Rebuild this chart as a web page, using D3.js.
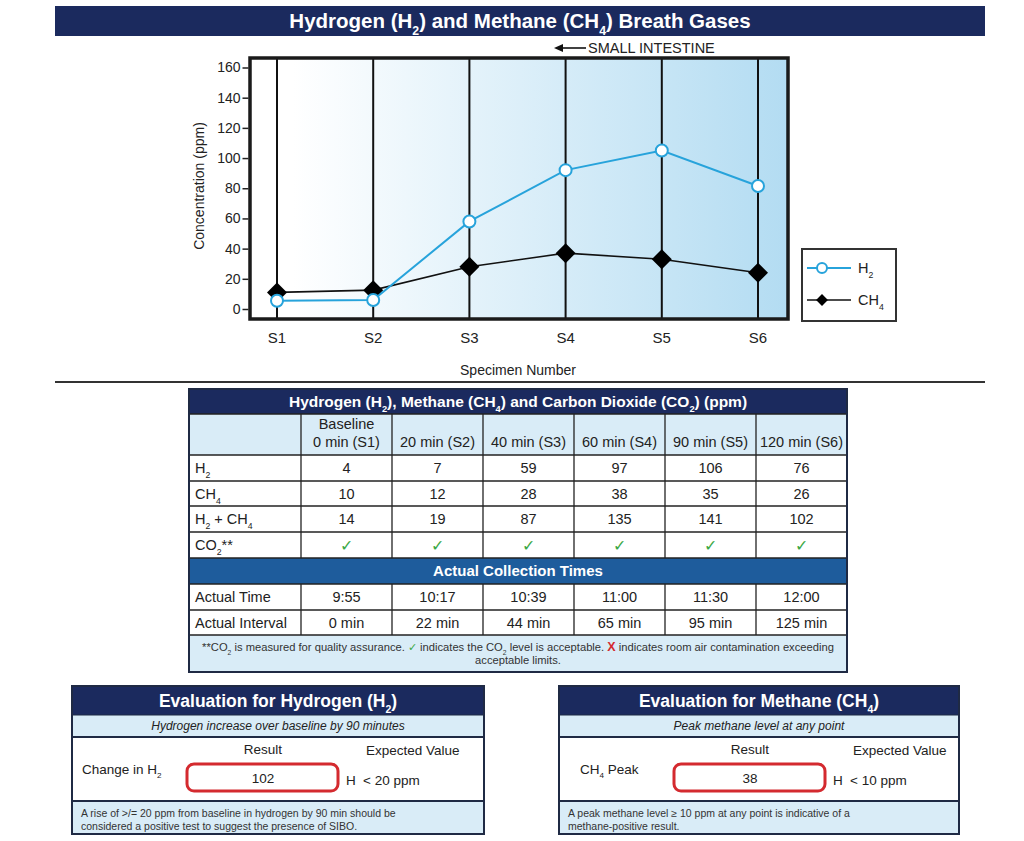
<!DOCTYPE html>
<html lang="en">
<head>
<meta charset="UTF-8">
<title>Hydrogen and Methane Breath Gases</title>
<script src="https://d3js.org/d3.v7.min.js"></script>
<style>
    body { margin: 0; background: #fff; font-family: "Liberation Sans", Arial, sans-serif; }
    svg text { font-family: "Liberation Sans", Arial, sans-serif; fill: #222; }
</style>
</head>
<body>
<svg id="page" width="1024" height="841"></svg>
<script>
    // ---- data ----
    const specimens = ["S1", "S2", "S3", "S4", "S5", "S6"];
    // values as drawn on the chart
    const h2Plot = [5.5, 6, 58, 92, 105, 81.5];
    const ch4Plot = [11, 12.5, 28, 37, 33, 24];
    const yTicks = [0, 20, 40, 60, 80, 100, 120, 140, 160];

    // table values
    const colHeads = [["Baseline", "0 min (S1)"], ["20 min (S2)"], ["40 min (S3)"], ["60 min (S4)"], ["90 min (S5)"], ["120 min (S6)"]];
    const rowLabels = ["H_{2}", "CH_{4}", "H_{2} + CH_{4}", "CO_{2}**"];
    const h2Table = [4, 7, 59, 97, 106, 76];
    const ch4Table = [10, 12, 28, 38, 35, 26];
    const sumTable = [14, 19, 87, 135, 141, 102];
    const co2Ok = [true, true, true, true, true, true];
    const timeLabels = ["Actual Time", "Actual Interval"];
    const actualTimes = ["9:55", "10:17", "10:39", "11:00", "11:30", "12:00"];
    const actualIntervals = ["0 min", "22 min", "44 min", "65 min", "95 min", "125 min"];

    const evalTitles = ["Evaluation for Hydrogen (H_{2})", "Evaluation for Methane (CH_{4})"];
    const evalSubs = ["Hydrogen increase over baseline by 90 minutes", "Peak methane level at any point"];
    const evalLabels = ["Change in H_{2}", "CH_{4} Peak"];
    const evalResults = [102, 38];
    const evalExpected = ["< 20 ppm", "< 10 ppm"];
    const evalNotes = [
        ["A rise of >/= 20 ppm from baseline in hydrogen by 90 min should be", "considered a positive test to suggest the presence of SIBO."],
        ["A peak methane level \u2265 10 ppm at any point is indicative of a", "methane-positive result."]
    ];

    const navy = "#1b2a5e", lightBlue = "#d9ecf7", h2Blue = "#27a3db";

    const svg = d3.select("#page");

    // text with _{sub} markup
    function rich(sel, str, fs) {
        const parts = str.split(/(_\{[^}]*\})/);
        let shifted = false;
        parts.forEach(p => {
            if (!p) return;
            if (p.startsWith("_{")) {
                sel.append("tspan").attr("dy", fs * 0.32).attr("font-size", fs * 0.6).text(p.slice(2, -1));
                shifted = true;
            } else {
                const t = sel.append("tspan").text(p);
                if (shifted) { t.attr("dy", -fs * 0.32); shifted = false; }
            }
        });
        return sel;
    }
    function label(g, x, y, str, fs, opts = {}) {
        const t = g.append("text")
            .attr("x", x).attr("y", y)
            .attr("font-size", fs)
            .attr("text-anchor", opts.anchor || "start")
            .attr("font-weight", opts.weight || "normal")
            .attr("font-style", opts.style || "normal")
            .style("fill", opts.fill || "#222");
        return rich(t, str, fs);
    }

    // ---- title bar ----
    svg.append("rect").attr("x", 55).attr("y", 6).attr("width", 930).attr("height", 30).attr("fill", navy);
    label(svg, 520, 28, "Hydrogen (H_{2}) and Methane (CH_{4}) Breath Gases", 20.5, { anchor: "middle", weight: "bold", fill: "#fff" });

    // ---- chart ----
    const frame = { left: 250, right: 788, top: 58, bottom: 319 };
    const x = d3.scalePoint().domain(specimens).range([277, 758]);
    const y = d3.scaleLinear().domain([0, 160]).range([309, 67.5]);

    const defs = svg.append("defs");
    const grad = defs.append("linearGradient").attr("id", "bg")
        .attr("gradientUnits", "userSpaceOnUse")
        .attr("x1", frame.left).attr("x2", frame.right).attr("y1", 0).attr("y2", 0);
    grad.append("stop").attr("offset", 0.08).attr("stop-color", "#ffffff");
    grad.append("stop").attr("offset", 1).attr("stop-color", "#b3dcf2");

    svg.append("rect")
        .attr("x", frame.left).attr("y", frame.top)
        .attr("width", frame.right - frame.left).attr("height", frame.bottom - frame.top)
        .attr("fill", "url(#bg)");

    svg.append("g").selectAll("line").data(specimens).enter().append("line")
        .attr("x1", d => x(d)).attr("x2", d => x(d))
        .attr("y1", frame.top).attr("y2", frame.bottom)
        .attr("stroke", "#111").attr("stroke-width", 2);

    svg.append("rect")
        .attr("x", frame.left).attr("y", frame.top)
        .attr("width", frame.right - frame.left).attr("height", frame.bottom - frame.top)
        .attr("fill", "none").attr("stroke", "#1a1a1a").attr("stroke-width", 3.5);

    const yAxis = svg.append("g")
        .attr("transform", `translate(${frame.left - 1.5},0)`)
        .call(d3.axisLeft(y).tickValues(yTicks).tickSize(6).tickPadding(2));
    yAxis.select(".domain").remove();
    yAxis.selectAll(".tick line").attr("stroke", "#222").attr("stroke-width", 1.5);
    yAxis.selectAll(".tick text").attr("font-size", 14).style("fill", "#222")
        .attr("font-family", "Liberation Sans, Arial, sans-serif");

    svg.append("g").selectAll("text").data(specimens).enter().append("text")
        .attr("x", d => x(d)).attr("y", 343)
        .attr("text-anchor", "middle").attr("font-size", 15)
        .text(d => d);

    svg.append("text")
        .attr("transform", "translate(204,186) rotate(-90)")
        .attr("text-anchor", "middle").attr("font-size", 14)
        .text("Concentration (ppm)");
    svg.append("text")
        .attr("x", 518).attr("y", 375)
        .attr("text-anchor", "middle").attr("font-size", 14)
        .text("Specimen Number");

    // small intestine note
    svg.append("line").attr("x1", 558).attr("x2", 586).attr("y1", 48).attr("y2", 48)
        .attr("stroke", "#111").attr("stroke-width", 1.6);
    svg.append("path").attr("d", "M554,48 L563,44 L563,52 Z").attr("fill", "#111");
    svg.append("text").attr("x", 588).attr("y", 53).attr("font-size", 14.5).text("SMALL INTESTINE");

    // lines
    const lineGen = d3.line().x((d, i) => x(specimens[i])).y(d => y(d));
    svg.append("path").datum(ch4Plot).attr("d", lineGen)
        .attr("fill", "none").attr("stroke", "#111").attr("stroke-width", 1.6);
    svg.append("g").selectAll("path").data(ch4Plot).enter().append("path")
        .attr("d", d3.symbol(d3.symbolSquare, 200))
        .attr("transform", (d, i) => `translate(${x(specimens[i])},${y(d)}) rotate(45)`)
        .attr("fill", "#000");

    svg.append("path").datum(h2Plot).attr("d", lineGen)
        .attr("fill", "none").attr("stroke", h2Blue).attr("stroke-width", 2);
    svg.append("g").selectAll("circle").data(h2Plot).enter().append("circle")
        .attr("cx", (d, i) => x(specimens[i])).attr("cy", d => y(d))
        .attr("r", 6).attr("fill", "#fff").attr("stroke", h2Blue).attr("stroke-width", 2);

    // legend
    const lg = svg.append("g");
    lg.append("rect").attr("x", 802).attr("y", 249).attr("width", 94).attr("height", 72)
        .attr("fill", "#fff").attr("stroke", "#333").attr("stroke-width", 2);
    lg.append("line").attr("x1", 807).attr("x2", 851).attr("y1", 268).attr("y2", 268)
        .attr("stroke", h2Blue).attr("stroke-width", 2);
    lg.append("circle").attr("cx", 822).attr("cy", 268).attr("r", 5)
        .attr("fill", "#fff").attr("stroke", h2Blue).attr("stroke-width", 2);
    label(lg, 858, 273, "H_{2}", 14.5);
    lg.append("line").attr("x1", 807).attr("x2", 851).attr("y1", 300).attr("y2", 300)
        .attr("stroke", "#111").attr("stroke-width", 1.6);
    lg.append("path").attr("d", d3.symbol(d3.symbolSquare, 70))
        .attr("transform", "translate(822,300) rotate(45)").attr("fill", "#000");
    label(lg, 858, 305, "CH_{4}", 14.5);

    // separator
    svg.append("line").attr("x1", 55).attr("x2", 985).attr("y1", 382).attr("y2", 382)
        .attr("stroke", "#333").attr("stroke-width", 2);

    // ---- table ----
    const T = { left: 189, right: 847, firstCol: 301 };
    const col = d3.scaleBand().domain(specimens).range([T.firstCol, T.right]);
    const tg = svg.append("g");
    const fs = 14.5;

    tg.append("rect").attr("x", T.left).attr("y", 389).attr("width", T.right - T.left).attr("height", 25).attr("fill", navy);
    label(tg, (T.left + T.right) / 2, 407, "Hydrogen (H_{2}), Methane (CH_{4}) and Carbon Dioxide (CO_{2}) (ppm)", 15.5,
        { anchor: "middle", weight: "bold", fill: "#fff" });

    tg.append("rect").attr("x", T.left).attr("y", 414).attr("width", T.right - T.left).attr("height", 41).attr("fill", lightBlue);
    colHeads.forEach((h, i) => {
        const cx = col(specimens[i]) + col.bandwidth() / 2;
        h.forEach((line, j) => {
            tg.append("text").attr("x", cx).attr("y", 447 - (h.length - 1 - j) * 18)
                .attr("text-anchor", "middle").attr("font-size", fs).text(line);
        });
    });

    const dataRows = [h2Table, ch4Table, sumTable, co2Ok];
    const rowTop = [455, 481, 506, 532];
    tg.append("rect").attr("x", T.left).attr("y", 455).attr("width", T.right - T.left).attr("height", 103).attr("fill", "#fff");
    dataRows.forEach((row, r) => {
        label(tg, T.left + 6, rowTop[r] + 18, rowLabels[r], fs);
        row.forEach((v, i) => {
            const cx = col(specimens[i]) + col.bandwidth() / 2;
            if (typeof v === "boolean") {
                tg.append("text").attr("x", cx).attr("y", rowTop[r] + 19)
                    .attr("text-anchor", "middle").attr("font-size", 16)
                    .style("fill", "#3aa846").text(v ? "\u2713" : "X");
            } else {
                tg.append("text").attr("x", cx).attr("y", rowTop[r] + 18)
                    .attr("text-anchor", "middle").attr("font-size", fs).text(v);
            }
        });
    });

    tg.append("rect").attr("x", T.left).attr("y", 558).attr("width", T.right - T.left).attr("height", 26).attr("fill", "#1e5c9c");
    tg.append("text").attr("x", (T.left + T.right) / 2).attr("y", 576)
        .attr("text-anchor", "middle").attr("font-size", 15).attr("font-weight", "bold")
        .style("fill", "#fff").text("Actual Collection Times");

    const timeRows = [actualTimes, actualIntervals];
    const timeTop = [584, 610];
    tg.append("rect").attr("x", T.left).attr("y", 584).attr("width", T.right - T.left).attr("height", 51).attr("fill", "#fff");
    timeRows.forEach((row, r) => {
        tg.append("text").attr("x", T.left + 6).attr("y", timeTop[r] + 18).attr("font-size", fs).text(timeLabels[r]);
        row.forEach((v, i) => {
            tg.append("text").attr("x", col(specimens[i]) + col.bandwidth() / 2).attr("y", timeTop[r] + 18)
                .attr("text-anchor", "middle").attr("font-size", fs).text(v);
        });
    });

    tg.append("rect").attr("x", T.left).attr("y", 635).attr("width", T.right - T.left).attr("height", 37).attr("fill", lightBlue);
    const fnSize = 11.2;
    const fn = tg.append("text").attr("x", (T.left + T.right) / 2).attr("y", 651)
        .attr("text-anchor", "middle").attr("font-size", fnSize).style("fill", "#333");
    rich(fn, "**CO_{2} is measured for quality assurance. ", fnSize);
    fn.append("tspan").style("fill", "#3aa846").text("\u2713");
    rich(fn, " indicates the CO_{2} level is acceptable. ", fnSize);
    fn.append("tspan").style("fill", "#d42a2f").attr("font-weight", "bold").attr("font-size", 12.5).text("X");
    fn.append("tspan").text(" indicates room air contamination exceeding");
    tg.append("text").attr("x", (T.left + T.right) / 2).attr("y", 664)
        .attr("text-anchor", "middle").attr("font-size", fnSize).style("fill", "#333").text("acceptable limits.");

    // grid lines
    const hLines = [414, 455, 481, 506, 532, 558, 584, 610, 635];
    tg.selectAll(".hl").data(hLines).enter().append("line")
        .attr("x1", T.left).attr("x2", T.right).attr("y1", d => d).attr("y2", d => d)
        .attr("stroke", "#222").attr("stroke-width", 1.3);
    const vEdges = [T.firstCol].concat(specimens.slice(1).map(s => col(s)));
    [[414, 558], [584, 635]].forEach(([a, b]) => {
        tg.selectAll(null).data(vEdges).enter().append("line")
            .attr("x1", d => d).attr("x2", d => d).attr("y1", a).attr("y2", b)
            .attr("stroke", "#222").attr("stroke-width", 1.3);
    });
    tg.append("rect").attr("x", T.left).attr("y", 389).attr("width", T.right - T.left).attr("height", 283)
        .attr("fill", "none").attr("stroke", "#1f2a44").attr("stroke-width", 2);

    // ---- evaluation boxes ----
    const boxes = [{ x: 72, w: 412 }, { x: 559, w: 400 }];
    boxes.forEach((b, k) => {
        const g = svg.append("g");
        const cx = b.x + b.w / 2;
        g.append("rect").attr("x", b.x).attr("y", 686).attr("width", b.w).attr("height", 29).attr("fill", navy);
        label(g, cx, 707, evalTitles[k], 17.5, { anchor: "middle", weight: "bold", fill: "#fff" });
        g.append("rect").attr("x", b.x).attr("y", 715).attr("width", b.w).attr("height", 22).attr("fill", lightBlue);
        g.append("text").attr("x", cx).attr("y", 730).attr("text-anchor", "middle")
            .attr("font-size", 12).attr("font-style", "italic").text(evalSubs[k]);
        g.append("rect").attr("x", b.x).attr("y", 737).attr("width", b.w).attr("height", 64).attr("fill", "#fff");
        g.append("rect").attr("x", b.x).attr("y", 801).attr("width", b.w).attr("height", 33).attr("fill", lightBlue);
        g.selectAll(null).data([715, 737, 801]).enter().append("line")
            .attr("x1", b.x).attr("x2", b.x + b.w).attr("y1", d => d).attr("y2", d => d)
            .attr("stroke", "#1f2a44").attr("stroke-width", d => d === 715 ? 1 : 2);

        const rx = b.x + 115;   // result box left
        g.append("text").attr("x", rx + 76).attr("y", 754).attr("text-anchor", "middle")
            .attr("font-size", 13.5).text("Result");
        g.append("text").attr("x", b.x + 294).attr("y", 755).attr("font-size", 13.5).text("Expected Value");
        label(g, k === 0 ? b.x + 10 : b.x + 21, 774, evalLabels[k], 13.5);
        g.append("rect").attr("x", rx).attr("y", 764).attr("width", 151).attr("height", 27).attr("rx", 7)
            .attr("fill", "#fff").attr("stroke", "#d42a2f").attr("stroke-width", 3);
        g.append("text").attr("x", rx + 76).attr("y", 783).attr("text-anchor", "middle")
            .attr("font-size", 13.5).text(evalResults[k]);
        g.append("text").attr("x", rx + 159).attr("y", 785).attr("font-size", 13.5).text("H");
        g.append("text").attr("x", rx + 176).attr("y", 785).attr("font-size", 13.5).text(evalExpected[k]);
        evalNotes[k].forEach((line, j) => {
            g.append("text").attr("x", b.x + 9).attr("y", 817 + j * 13).attr("font-size", 10.5)
                .style("fill", "#333").text(line);
        });
        g.append("rect").attr("x", b.x).attr("y", 686).attr("width", b.w).attr("height", 148)
            .attr("fill", "none").attr("stroke", "#1f2a44").attr("stroke-width", 2);
    });
</script>
</body>
</html>
